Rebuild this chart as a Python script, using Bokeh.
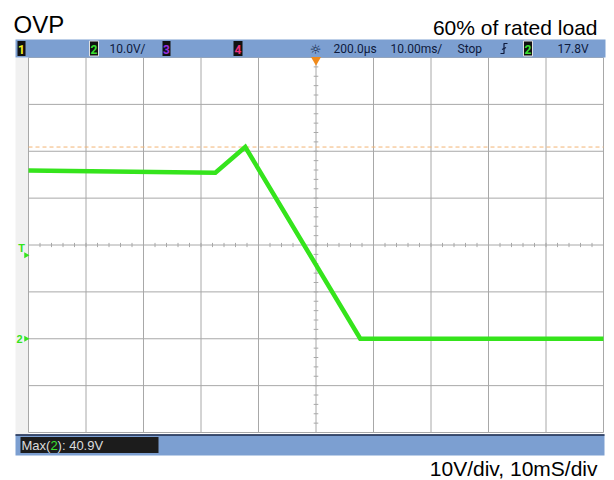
from bokeh.plotting import figure
from bokeh.models import Range1d, Label
from bokeh.embed import file_html
from bokeh.resources import INLINE
import numpy as np

# ---------------- data ----------------
time_ms = [-50.0, -17.5, -12.3, 7.7, 50.0]       # ms relative to trigger
ch2_volts = [35.9, 35.4, 40.9, 0.0, 0.0]          # V
max_volts = 40.9                                  # Max(2) measurement
trig_level = 17.8                                 # trigger level, V
grid_time = list(range(-50, 51, 10))              # 10 ms/div
grid_volts = list(range(-20, 61, 10))             # 10 V/div, ground 2 div below centre

title_left = "OVP"
title_right = "60% of rated load"
footer = "10V/div, 10mS/div"
meas_text = ["Max(", "2", "): 40.9V"]

# ---------------- geometry ----------------
W, H = 614, 480
OFF = 0                                           # page offset of the canvas
GL, GR, GT, GB = 28.0, 603.0, 57.0, 432.0          # grid box in page pixels
sx = (GR - GL) / 100.0
sy = (GB - GT) / 80.0
X0 = -50 - (GL - OFF) / sx
X1 = 50 + (OFF + W - GR) / sx
Y1 = 60 + (GT - OFF) / sy
Y0 = -20 - (OFF + H - GB) / sy


def PX(x):
    return X0 + (x - OFF) / W * (X1 - X0)


def PY(y):
    return Y1 - (y - OFF) / H * (Y1 - Y0)


p = figure(width=W, height=H, x_range=Range1d(X0, X1), y_range=Range1d(Y0, Y1),
           output_backend="svg", toolbar_location=None, min_border=0,
           x_axis_type=None, y_axis_type=None)
p.grid.visible = False
p.outline_line_color = None
p.background_fill_color = "white"
p.border_fill_color = "white"

BAR = "#7c9fd1"
NAVY = "#0e1a3c"

# left marker strip
p.quad(left=[PX(15)], right=[PX(GL)], top=[PY(GT)], bottom=[PY(434)],
       fill_color="#f1f1f1", line_color=None)

# grid
p.segment(x0=grid_time, y0=[-20] * len(grid_time), x1=grid_time, y1=[60] * len(grid_time),
          line_color="#a8a8a8", line_width=1)
p.segment(x0=[-50] * len(grid_volts), y0=grid_volts, x1=[50] * len(grid_volts), y1=grid_volts,
          line_color="#a8a8a8", line_width=1)
# minor ticks on centre lines
tt = np.arange(-50, 51, 2)
p.segment(x0=tt, y0=20 - 0.45, x1=tt, y1=20 + 0.45, line_color="#a8a8a8", line_width=1)
vv = np.arange(-20, 61, 2)
p.segment(x0=-0.4, y0=vv, x1=0.4, y1=vv, line_color="#a8a8a8", line_width=1)

# Max marker line
p.line([-50, 50], [max_volts, max_volts], line_color="#f3b574", line_width=1, line_dash="4 3")

# trace
p.line(time_ms, ch2_volts, line_color="#35e41c", line_width=4.5, line_join="miter")

# top status bar
p.quad(left=[PX(15)], right=[PX(605)], top=[PY(39)], bottom=[PY(57)],
       fill_color=BAR, line_color=None)
# trigger position marker
p.scatter([0.0], [PY(59.5)], marker="inverted_triangle", size=10,
          fill_color="#f08a1c", line_color=None)

# channel boxes
boxes = [(17, 25, "1", "#f0f020", None), (89, 98, "2", "#3ae030", "#e0e0e0"),
         (162, 170, "3", "#9a30e0", None), (233, 242, "4", "#f0307a", None),
         (523, 532, "2", "#3ae030", "#e0e0e0")]
for l, r, t, c, bc in boxes:
    p.quad(left=[PX(l)], right=[PX(r)], top=[PY(40.5)], bottom=[PY(55.5)],
           fill_color="#111111", line_color=bc, line_width=1)
    p.add_layout(Label(x=PX((l + r) / 2), y=PY(48.5), text=t, text_font="Roboto",
                       text_font_size="12px", text_color=c, text_align="center",
                       text_baseline="middle", text_font_style="bold"))

for x, t in [(109, "10.0V/"), (333, "200.0µs"), (390, "10.00ms/"), (457, "Stop"), (557, "17.8V")]:
    p.add_layout(Label(x=PX(x), y=PY(48.5), text=t, text_font="Roboto",
                       text_font_size="12px", text_color=NAVY,
                       text_baseline="middle"))
p.add_layout(Label(x=PX(315), y=PY(48.5), text="☼", text_font="DejaVu Sans",
                   text_font_size="13px", text_color=NAVY, text_align="center",
                   text_baseline="middle"))
# trigger edge icon
p.line([PX(500), PX(503.5), PX(503.5), PX(507)], [PY(53), PY(53), PY(43), PY(43)],
       line_color=NAVY, line_width=1.2)
p.line([PX(501.5), PX(505.5)], [PY(49), PY(47)], line_color=NAVY, line_width=1.2)

# left strip markers
p.add_layout(Label(x=PX(21), y=PY(247), text="T", text_font="Liberation Sans",
                   text_font_size="11px", text_color="#35e41c", text_align="center",
                   text_baseline="middle", text_font_style="bold"))
p.scatter([PX(25.5)], [trig_level], marker="triangle", angle=-np.pi / 2, size=6,
          fill_color="#35e41c", line_color=None)
p.add_layout(Label(x=PX(19), y=0.0, text="2", text_font="Liberation Sans",
                   text_font_size="11px", text_color="#35e41c", text_align="center",
                   text_baseline="middle", text_font_style="bold"))
p.scatter([PX(25.5)], [0.0], marker="triangle", angle=-np.pi / 2, size=6,
          fill_color="#35e41c", line_color=None)

# bottom bar
p.quad(left=[PX(15)], right=[PX(604)], top=[PY(434)], bottom=[PY(455)],
       fill_color=BAR, line_color=None)
p.line([PX(15), PX(604)], [PY(434.5), PY(434.5)], line_color="#1d2a4a", line_width=1.5)
p.quad(left=[PX(20)], right=[PX(158)], top=[PY(436.5)], bottom=[PY(452.5)],
       fill_color="#1c1c1c", line_color=None)
xs = [21, 49.9, 57.1]
cols = ["#dcdcdc", "#3ae030", "#dcdcdc"]
for x, t, c in zip(xs, meas_text, cols):
    p.add_layout(Label(x=PX(x), y=PY(445), text=t, text_font="Liberation Sans",
                       text_font_size="13px", text_color=c, text_baseline="middle"))

# header / footer texts
p.add_layout(Label(x=PX(13), y=PY(24), text=title_left, text_font="Liberation Sans",
                   text_font_size="24px", text_color="black", text_baseline="middle"))
p.add_layout(Label(x=PX(597), y=PY(26.5), text=title_right, text_font="Liberation Sans",
                   text_font_size="21px", text_color="black", text_align="right",
                   text_baseline="middle"))
p.add_layout(Label(x=PX(597), y=PY(468), text=footer, text_font="Liberation Sans",
                   text_font_size="21px", text_color="black", text_align="right",
                   text_baseline="middle"))

open("out.html", "w").write(file_html(p, INLINE))
